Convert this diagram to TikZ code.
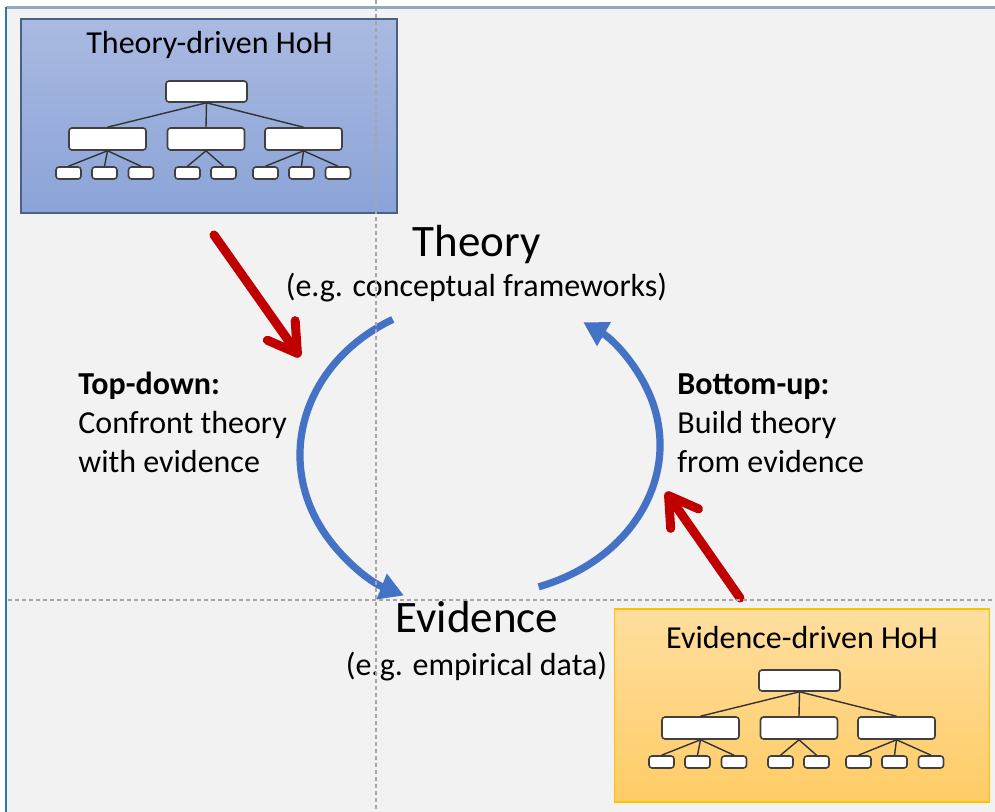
\documentclass[tikz,border=0pt]{standalone}
\usepackage{fontspec}
\setmainfont{Carlito}
\usetikzlibrary{arrows.meta}
\definecolor{slidegrey}{HTML}{F2F2F2}
\definecolor{slidetop}{HTML}{8FAAC1}
\definecolor{slideleft}{HTML}{2E75B6}
\definecolor{guidegrey}{HTML}{A6A6A6}
\definecolor{cycleblue}{HTML}{4472C4}
\definecolor{pushred}{HTML}{C00000}
\definecolor{theorytop}{HTML}{AABAE1}
\definecolor{theorybottom}{HTML}{8AA3D7}
\definecolor{theoryedge}{HTML}{4A6086}
\definecolor{evidencetop}{HTML}{FFDE9E}
\definecolor{evidencebottom}{HTML}{FFCC66}
\definecolor{evidenceedge}{HTML}{FFC000}
\tikzset{
  tree box/.style={draw=black!75, fill=white, rounded corners=1.5pt, line width=0.8pt, inner sep=0pt},
  tree top/.style={tree box, minimum width=40.5pt, minimum height=10.5pt},
  tree mid/.style={tree box, minimum width=38.5pt, minimum height=11pt},
  tree leaf/.style={tree box, minimum width=12.5pt, minimum height=6pt},
  tree link/.style={draw=black!80, line width=0.7pt},
  hoh tree/.pic={
    \node[tree top] (-top) at (0,0) {};
    \node[tree mid] (-m1) at (-99,47.5) {};
    \node[tree mid] (-m2) at (-0.5,47.5) {};
    \node[tree mid] (-m3) at (97,47.5) {};
    \foreach \leaf/\x in {a/-138,b/-102,c/-65.5,d/-19,e/17,f/59,g/95,h/131.5}
      \node[tree leaf] (-\leaf) at (\x,81.5) {};
    \foreach \kid in {m1,m2,m3}
      \draw[tree link] (-top.south) -- (-\kid.north);
    \foreach \mid/\leaf in {m1/a,m1/b,m1/c,m2/d,m2/e,m3/f,m3/g,m3/h}
      \draw[tree link] (-\mid.south) -- (-\leaf.north);
  },
  hoh box/.style={inner sep=0pt, line width=0.9pt},
  big label/.style={anchor=base, inner sep=0pt, font=\fontsize{22.5}{27}\selectfont},
  small label/.style={anchor=base, inner sep=0pt, font=\fontsize{16}{19.3}\selectfont},
  side text/.style={anchor=base west, align=left, inner sep=0pt, font=\fontsize{16}{19.3}\selectfont},
  cycle arrow/.style={draw=cycleblue, line width=3.6pt, -{Triangle[length=12pt,width=13pt]}},
  push arrow/.style={draw=pushred, line width=4.5pt, line cap=round, -{Straight Barb[length=14pt,width=17pt,round]}},
  guide/.style={draw=guidegrey, line width=0.6pt, dash pattern=on 2pt off 1.5pt}
}
\begin{document}
\begin{tikzpicture}[x=0.5pt, y=-0.5pt]
  \useasboundingbox (0,0) rectangle (995,812);
  \fill[white] (0,0) rectangle (995,812);
  \fill[slidegrey] (6,8) rectangle (995,812);
  \draw[slidetop, line width=1.2pt] (6,7.5) -- (995,7.5);
  \draw[slideleft, line width=0.8pt] (6,7) -- (6,812);

  \node[hoh box, draw=theoryedge, top color=theorytop, bottom color=theorybottom,
        minimum width=188pt, minimum height=97pt] (theory box) at (209,116) {};
  \node[small label] (theory title) at (209.5,54) {Theory-driven HoH};
  \pic (theory tree) at (206.5,91.5) {hoh tree};

  \node[hoh box, draw=evidenceedge, top color=evidencetop, bottom color=evidencebottom,
        minimum width=187.5pt, minimum height=96.5pt] (evidence box) at (802,705.5) {};
  \node[small label] (evidence title) at (802,648) {Evidence-driven HoH};
  \pic (evidence tree) at (799.5,680.5) {hoh tree};

  \node[big label] (theory) at (476.5,257) {Theory};
  \node[small label] (theory eg) at (476.5,297) {(e.g. conceptual frameworks)};
  \node[big label] (evidence) at (477,632) {Evidence};
  \node[small label] (evidence eg) at (476.5,675) {(e.g. empirical data)};

  \node[side text] (topdown) at (78,472) {\textbf{Top-down:}\\Confront theory\\with evidence};
  \node[side text] (bottomup) at (677,472) {\textbf{Bottom-up:}\\Build theory\\from evidence};

  \coordinate (down start) at ({480+180*cos(119)},{455-155*sin(119)});
  \coordinate (up start) at ({480+180*cos(-71)},{445-150*sin(-71)});
  \draw[cycle arrow] (down start) arc[start angle=119, end angle=245, x radius=90pt, y radius=77.5pt];
  \draw[cycle arrow] (up start) arc[start angle=-71, end angle=55, x radius=90pt, y radius=75pt];

  \coordinate (theory push) at (214,235);
  \coordinate (theory hit) at (300,357);
  \coordinate (evidence push) at (740,598);
  \coordinate (evidence hit) at (666,492);
  \draw[push arrow] (theory push) -- (theory hit);
  \draw[push arrow] (evidence push) -- (evidence hit);

  \draw[guide] (376,0) -- (376,812);
  \draw[guide] (8,600) -- (995,600);
\end{tikzpicture}
\end{document}
